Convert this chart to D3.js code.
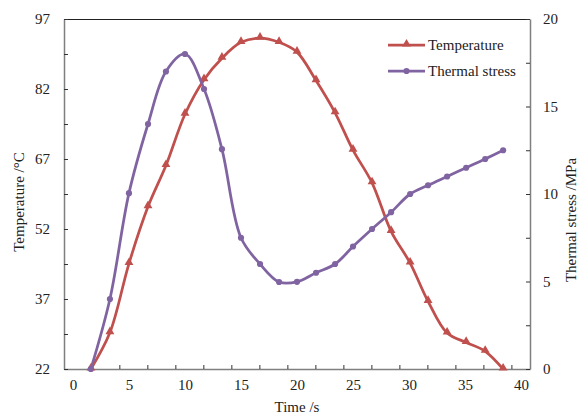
<!DOCTYPE html>
<html>
<head>
<meta charset="utf-8">
<script src="https://cdn.jsdelivr.net/npm/d3@7"></script>
<style>
  body { margin: 0; background: #fff; }
  text { font-family: "Liberation Serif", "Times New Roman", serif; fill: #222; }
</style>
</head>
<body>
<svg id="chart"></svg>
<script>
// values
var times = [1.6, 3.3, 5.0, 6.7, 8.3, 10.0, 11.7, 13.3, 15.0, 16.7, 18.4, 20.0,
             21.7, 23.4, 25.0, 26.7, 28.4, 30.1, 31.7, 33.4, 35.1, 36.8, 38.4]
var temperature = [22, 29.8, 44.6, 56.8, 65.6, 76.6, 84.0, 88.6, 92.0, 92.9, 92.0, 89.9,
                   83.8, 76.9, 68.9, 61.9, 51.5, 44.7, 36.5, 29.7, 27.7, 25.8, 22]
var stress = [0, 4.0, 10.05, 14.0, 17.0, 18.0, 16.0, 12.56, 7.5, 6.0, 4.97, 4.98,
              5.5, 6.0, 7.0, 8.0, 8.96, 10.0, 10.5, 11.0, 11.5, 12.0, 12.5]
var xLabels = [0, 5, 10, 15, 20, 25, 30, 35, 40]
var tempTicks = [22, 37, 52, 67, 82, 97]
var stressTicks = [0, 5, 10, 15, 20]

var width = 588, height = 416
var pL = 64, pR = 530, pT = 19, pB = 369
var red = "#c0504d", purple = "#8064a2", axisCol = "#7f7f7f"

var svg = d3.select("#chart")
    .attr("width", width)
    .attr("height", height)

var x = d3.scaleLinear().domain([-0.8, 40.8]).range([pL, pR])
var yT = d3.scaleLinear().domain([22, 97]).range([pB, pT])
var yS = d3.scaleLinear().domain([0, 20]).range([pB, pT])

// top border
svg.append("line")
    .attr("x1", pL).attr("x2", pR)
    .attr("y1", pT + 0.5).attr("y2", pT + 0.5)
    .attr("stroke", "#222").attr("stroke-width", 1)

// bottom axis: tick marks inside, labels on their own positions
var gx = svg.append("g").attr("transform", "translate(0," + pB + ")")
gx.call(d3.axisBottom(x)
    .tickValues(d3.range(0, 16).map(k => 1.64 + 2.5 * k))
    .tickSizeInner(-4).tickSizeOuter(0)
    .tickFormat(""))
gx.select(".domain").attr("stroke", axisCol).attr("stroke-width", 1.5)
gx.selectAll(".tick line").attr("stroke", "#333")

var gxl = svg.append("g").attr("transform", "translate(0," + pB + ")")
gxl.call(d3.axisBottom(x).tickValues(xLabels).tickSize(0).tickPadding(10))
gxl.select(".domain").remove()
gxl.selectAll("text").attr("font-size", 15).style("font-family", "Liberation Serif")

// left axis
var gl = svg.append("g").attr("transform", "translate(" + pL + ",0)")
gl.call(d3.axisLeft(yT)
    .tickValues(d3.range(22, 98, 7.5))
    .tickSizeInner(-4).tickSizeOuter(0)
    .tickPadding(14)
    .tickFormat(d => tempTicks.includes(d) ? d : ""))
gl.select(".domain").attr("stroke", axisCol).attr("stroke-width", 1.5)
gl.selectAll(".tick line").attr("stroke", "#333")
gl.selectAll("text").attr("font-size", 15).style("font-family", "Liberation Serif")

// right axis
var gr = svg.append("g").attr("transform", "translate(" + pR + ",0)")
gr.call(d3.axisRight(yS)
    .tickValues(d3.range(0, 20.1, 2.5))
    .tickSizeInner(-4).tickSizeOuter(0)
    .tickPadding(13)
    .tickFormat(d => stressTicks.includes(d) ? d : ""))
gr.select(".domain").attr("stroke", axisCol).attr("stroke-width", 1.5)
gr.selectAll(".tick line").attr("stroke", "#333")
gr.selectAll("text").attr("font-size", 15).style("font-family", "Liberation Serif")

// axis titles
svg.append("text")
    .attr("transform", "translate(24," + ((pT + pB) / 2 + 8) + ") rotate(-90)")
    .attr("text-anchor", "middle")
    .attr("font-size", 15)
    .text("Temperature /°C")

svg.append("text")
    .attr("transform", "translate(576," + ((pT + pB) / 2 + 26) + ") rotate(-90)")
    .attr("text-anchor", "middle")
    .attr("font-size", 15)
    .text("Thermal stress /MPa")

svg.append("text")
    .attr("x", (pL + pR) / 2)
    .attr("y", 412)
    .attr("text-anchor", "middle")
    .attr("font-size", 15)
    .text("Time /s")

// series
var tempData = times.map((t, i) => [t, temperature[i]])
var stressData = times.map((t, i) => [t, stress[i]])

var lineT = d3.line().x(d => x(d[0])).y(d => yT(d[1])).curve(d3.curveCatmullRom.alpha(0.5))
var lineS = d3.line().x(d => x(d[0])).y(d => yS(d[1])).curve(d3.curveCatmullRom.alpha(0.5))

var tri = d3.symbol().type(d3.symbolTriangle).size(34)
var dot = d3.symbol().type(d3.symbolCircle).size(30)

svg.append("path")
    .datum(tempData)
    .attr("d", lineT)
    .attr("fill", "none")
    .attr("stroke", red)
    .attr("stroke-width", 2.75)

svg.selectAll(".tri")
    .data(tempData)
    .enter()
    .append("path")
        .attr("class", "tri")
        .attr("d", tri)
        .attr("transform", d => "translate(" + x(d[0]) + "," + (yT(d[1]) - 1) + ")")
        .attr("fill", red)

svg.append("path")
    .datum(stressData)
    .attr("d", lineS)
    .attr("fill", "none")
    .attr("stroke", purple)
    .attr("stroke-width", 2.75)

svg.selectAll(".dot")
    .data(stressData)
    .enter()
    .append("path")
        .attr("class", "dot")
        .attr("d", dot)
        .attr("transform", d => "translate(" + x(d[0]) + "," + yS(d[1]) + ")")
        .attr("fill", purple)

// legend
var legend = [["Temperature", red, tri, 45], ["Thermal stress", purple, dot, 71]]
legend.forEach(function (l) {
    var g = svg.append("g")
    g.append("line")
        .attr("x1", 388).attr("x2", 425)
        .attr("y1", l[3]).attr("y2", l[3])
        .attr("stroke", l[1]).attr("stroke-width", 2.75)
    g.append("path")
        .attr("d", l[2])
        .attr("transform", "translate(406.5," + (l[3] - (l[0] == "Temperature" ? 1 : 0)) + ")")
        .attr("fill", l[1])
    g.append("text")
        .attr("x", 428)
        .attr("y", l[3])
        .attr("dy", "0.35em")
        .attr("font-size", 15)
        .text(l[0])
})
</script>
</body>
</html>
